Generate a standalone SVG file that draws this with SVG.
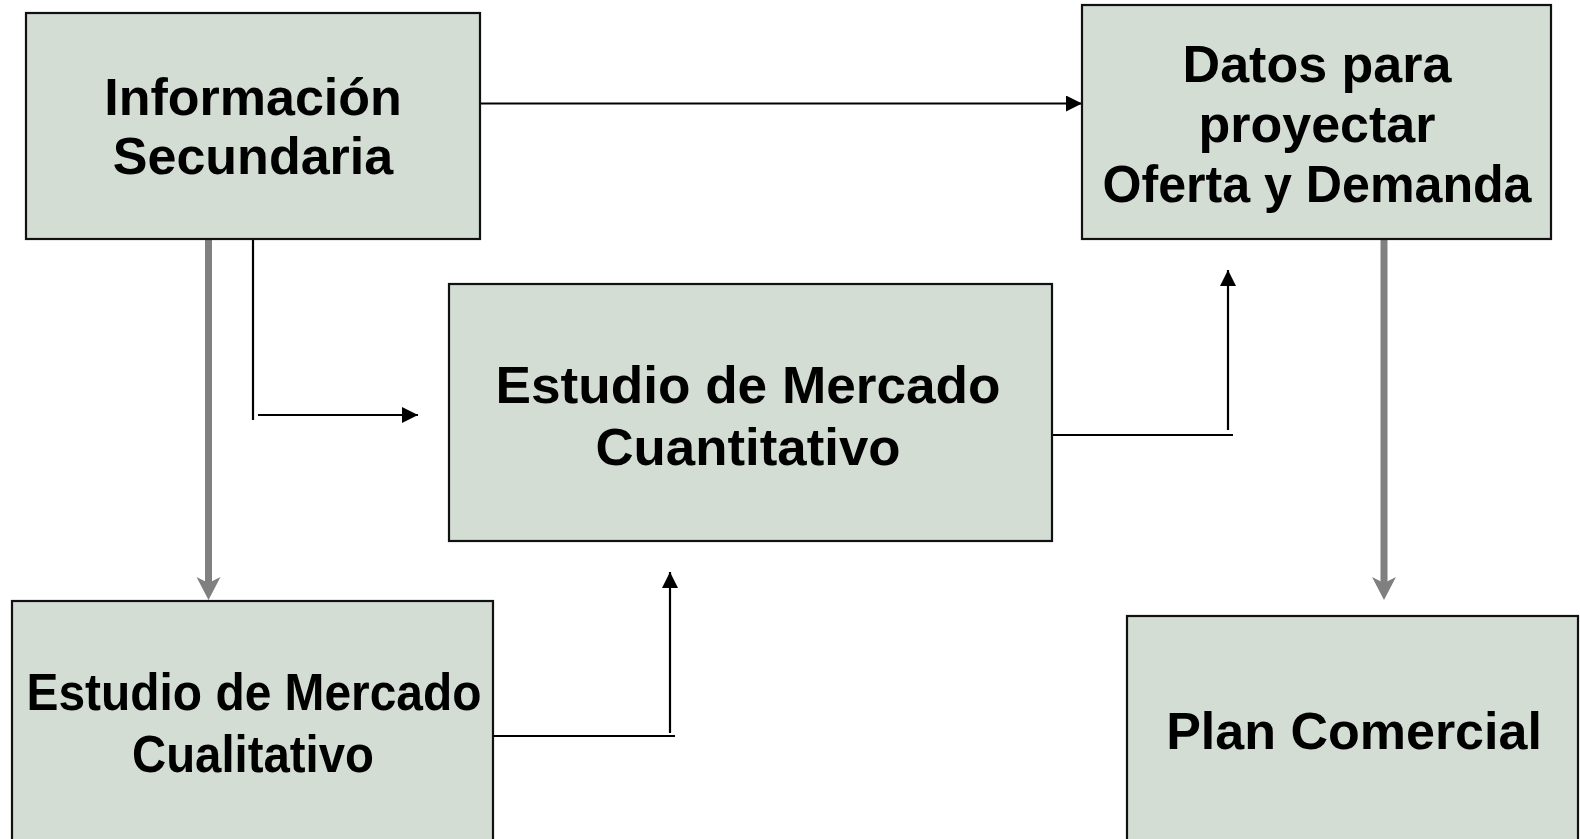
<svg xmlns="http://www.w3.org/2000/svg" width="1580" height="839" viewBox="0 0 1580 839">
<defs>
<style>
.box{fill:#D3DDD4;stroke:#111;stroke-width:2.2}
.t{font-family:"Liberation Sans",Arial,sans-serif;font-weight:bold;font-size:52px;fill:#000;text-anchor:middle}
.thin{stroke:#000;stroke-width:2.2;fill:none}
.thick{stroke:#808080;stroke-width:7;fill:none}
.gh{fill:#808080}
</style>
<marker id="ah" markerUnits="userSpaceOnUse" markerWidth="16" markerHeight="16" viewBox="0 0 16 16" refX="16" refY="8" orient="auto">
<path d="M0,0 L16,8 L0,16 Z" fill="#000"/>
</marker>
</defs>
<rect width="1580" height="839" fill="#fff"/>
<g id="connectors">
<path class="thin" d="M480,103.5 H1082" marker-end="url(#ah)"/>
<path class="thin" d="M253,239 V420"/>
<path class="thin" d="M258,415 H418" marker-end="url(#ah)"/>
<path class="thin" d="M1052,435 H1233"/>
<path class="thin" d="M1228,430 V270" marker-end="url(#ah)"/>
<path class="thin" d="M494,736 H675"/>
<path class="thin" d="M670,733 V572" marker-end="url(#ah)"/>
<path class="thick" d="M208.5,240 V586"/>
<path class="gh" d="M208.5,600 L196.5,577 L208.5,583 L220.5,577 Z"/>
<path class="thick" d="M1384,240 V586"/>
<path class="gh" d="M1384,600 L1372,577 L1384,583 L1396,577 Z"/>
</g>
<g id="info">
<rect class="box" x="26" y="13" width="454" height="226"/>
<text class="t" x="253" y="115">Información</text>
<text class="t" x="253" y="174">Secundaria</text>
</g>
<g id="datos">
<rect class="box" x="1082" y="5" width="469" height="234"/>
<text class="t" x="1317" y="82" font-size="48">Datos para</text>
<text class="t" x="1317" y="142" font-size="48">proyectar</text>
<text class="t" x="1317" y="202" font-size="48" textLength="429" lengthAdjust="spacingAndGlyphs">Oferta y Demanda</text>
</g>
<g id="cuanti">
<rect class="box" x="449" y="284" width="603" height="257"/>
<text class="t" x="748" y="403" font-size="56" textLength="505" lengthAdjust="spacingAndGlyphs">Estudio de Mercado</text>
<text class="t" x="748" y="465" font-size="56" textLength="305" lengthAdjust="spacingAndGlyphs">Cuantitativo</text>
</g>
<g id="cuali">
<rect class="box" x="12" y="601" width="481" height="250"/>
<text class="t" x="254" y="710" font-size="51" textLength="455" lengthAdjust="spacingAndGlyphs">Estudio de Mercado</text>
<text class="t" x="253" y="772" font-size="51" textLength="242" lengthAdjust="spacingAndGlyphs">Cualitativo</text>
</g>
<g id="plan">
<rect class="box" x="1127" y="616" width="451" height="240"/>
<text class="t" x="1354" y="749">Plan Comercial</text>
</g>
</svg>
